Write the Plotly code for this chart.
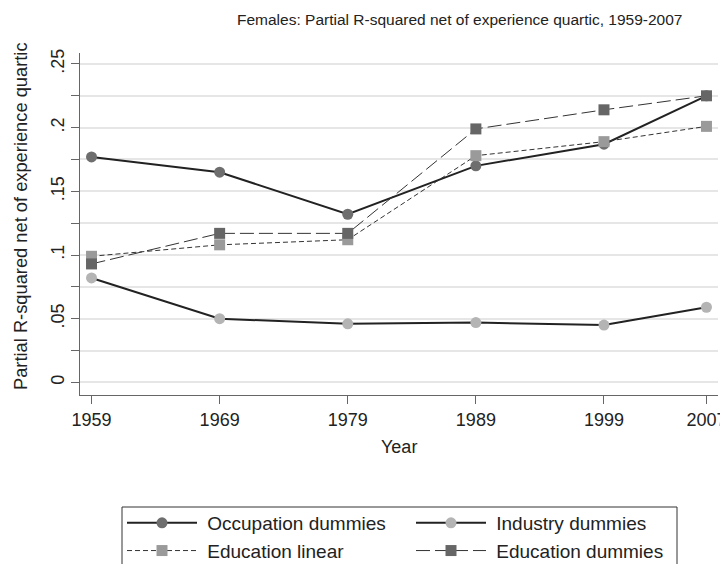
import plotly.graph_objects as go

years = [1959, 1969, 1979, 1989, 1999, 2007]
occupation = [0.177, 0.165, 0.132, 0.170, 0.187, 0.225]
industry = [0.082, 0.050, 0.046, 0.047, 0.045, 0.059]
educ_linear = [0.099, 0.108, 0.112, 0.178, 0.189, 0.201]
educ_dummies = [0.093, 0.117, 0.117, 0.199, 0.214, 0.225]

series_names = ["Occupation dummies", "Industry dummies", "Education linear", "Education dummies"]

y_tickvals = [0, 0.025, 0.05, 0.075, 0.1, 0.125, 0.15, 0.175, 0.2, 0.225, 0.25]
y_ticktext = ["0", "", ".05", "", ".1", "", ".15", "", ".2", "", ".25"]

FONT = "Liberation Sans, Arial, sans-serif"

# the page body has an 8px margin, so the figure is drawn 8px in from the window corner
OFF = 8
W, H = 728 - OFF, 564 - OFF
# plot area in window pixels
SL, SR, ST, SB = 80, 718, 53, 395
L, R, T, B = SL - OFF, SR - OFF, ST - OFF, SB - OFF
PW, PH = R - L, B - T


def px_x(sx):
    return (sx - OFF - L) / PW


def px_y(sy):
    return (B - (sy - OFF)) / PH


NB = "\u00a0"

fig = go.Figure()
fig.add_trace(go.Scatter(x=years, y=occupation, name=NB + series_names[0], mode="lines+markers",
                         line=dict(color="#222222", width=2), legend="legend",
                         marker=dict(symbol="circle", size=11, color="#6e6e6e")))
fig.add_trace(go.Scatter(x=years, y=industry, name=NB + series_names[1], mode="lines+markers",
                         line=dict(color="#222222", width=2), legend="legend2",
                         marker=dict(symbol="circle", size=11, color="#b4b4b4")))
fig.add_trace(go.Scatter(x=years, y=educ_linear, name=NB + series_names[2], mode="lines+markers",
                         line=dict(color="#333333", width=1, dash="5px,3px"), legend="legend",
                         marker=dict(symbol="square", size=11, color="#9a9a9a")))
fig.add_trace(go.Scatter(x=years, y=educ_dummies, name=NB + series_names[3], mode="lines+markers",
                         line=dict(color="#333333", width=1, dash="14px,5px"), legend="legend2",
                         marker=dict(symbol="square", size=11, color="#666666")))

legend_common = dict(orientation="v", xanchor="left", yanchor="top",
                     borderwidth=0, bgcolor="rgba(0,0,0,0)", itemwidth=70,
                     font=dict(size=19), traceorder="normal", tracegroupgap=0)

fig.update_layout(
    width=W, height=H,
    margin=dict(l=L, r=W - R, t=T, b=H - B, autoexpand=False),
    paper_bgcolor="white", plot_bgcolor="white",
    font=dict(family=FONT, size=18, color="#222222"),
    showlegend=True,
    legend=dict(x=px_x(122), y=px_y(504), **legend_common),
    legend2=dict(x=px_x(411), y=px_y(504), **legend_common),
)
# legend frame (its bottom edge falls below the window, as in the reference)
fig.add_shape(type="rect", xref="paper", yref="paper",
              x0=px_x(122), x1=px_x(677), y0=px_y(507), y1=px_y(640),
              line=dict(color="#333333", width=1), fillcolor="rgba(0,0,0,0)", layer="below")

fig.add_annotation(text="Females: Partial R-squared net of experience quartic, 1959-2007",
                   x=px_x(459), xref="paper", xanchor="center",
                   y=px_y(20), yref="paper", yanchor="middle",
                   showarrow=False, font=dict(size=15.5))
fig.add_annotation(text="Partial R-squared net of experience quartic",
                   x=px_x(20), xref="paper", xanchor="center",
                   y=px_y(216), yref="paper", yanchor="middle",
                   textangle=-90, showarrow=False, font=dict(size=18.3))
fig.add_annotation(text="Year", x=px_x(399), xref="paper", xanchor="center",
                   y=px_y(447), yref="paper", yanchor="middle",
                   showarrow=False, font=dict(size=18))

fig.update_xaxes(range=[1958.1, 2007.9], tickvals=years, ticktext=[str(y) for y in years],
                 showline=True, linecolor="#666666", linewidth=1.2,
                 ticks="outside", ticklen=8, tickcolor="#666666",
                 showgrid=False, zeroline=False, tickfont=dict(size=18))
fig.update_yaxes(range=[-0.0099, 0.2586], tickvals=y_tickvals, ticktext=y_ticktext,
                 tickangle=-90,
                 showline=True, linecolor="#666666", linewidth=1.2,
                 ticks="outside", ticklen=8, tickcolor="#666666",
                 showgrid=True, gridcolor="#e6e6e6", gridwidth=1.5,
                 zeroline=False, tickfont=dict(size=18))

fig.write_html("out.html")
